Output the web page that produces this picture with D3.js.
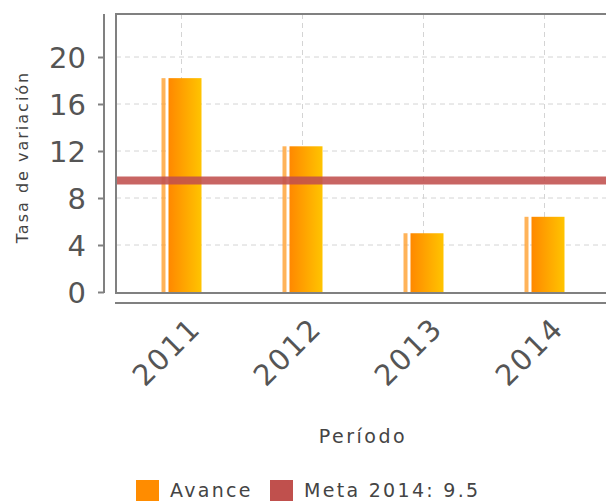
<!DOCTYPE html>
<html><head><meta charset="utf-8">
<script src="https://cdn.jsdelivr.net/npm/d3@7"></script>
<style>body{margin:0;background:#fff}svg{display:block}</style>
</head><body>
<script>
const categories = ["2011","2012","2013","2014"];
const avance = [18.2, 12.4, 5.0, 6.4];
const meta = 9.5;
const yTicks = [0,4,8,12,16,20];
const seriesNames = ["Avance","Meta 2014: 9.5"];

(function(){
const W=606,H=501;
const svg=d3.select("body").append("svg").attr("width",W).attr("height",H);
const defs=svg.append("defs");
const g=defs.append("linearGradient").attr("id","barg").attr("x1","0").attr("x2","1").attr("y1","0").attr("y2","0");
g.append("stop").attr("offset","0%").attr("stop-color","#ff8800");
g.append("stop").attr("offset","100%").attr("stop-color","#ffc400");

const pLeft=116, pTop=14, pBottom=292, pRight=606;
const x=d3.scaleBand().domain(categories).range([121,605]);
const y=d3.scaleLinear().domain([0,24]).range([pBottom,10]);

// grid
const grid=svg.append("g").attr("stroke","#d4d4d4").attr("stroke-dasharray","5,4").attr("stroke-width",1);
grid.selectAll("line.h").data(yTicks.filter(d=>d>0)).join("line").attr("class","h")
  .attr("x1",pLeft).attr("x2",pRight).attr("y1",d=>y(d)).attr("y2",d=>y(d));
grid.selectAll("line.v").data(categories).join("line").attr("class","v")
  .attr("x1",d=>x(d)+x.bandwidth()/2).attr("x2",d=>x(d)+x.bandwidth()/2).attr("y1",pTop).attr("y2",pBottom);

// bars
const bw=33;
const bars=svg.append("g");
bars.selectAll("rect.s").data(avance).join("rect").attr("class","s")
  .attr("x",(d,i)=>x(categories[i])+x.bandwidth()/2-20).attr("width",4)
  .attr("y",d=>y(d)).attr("height",d=>pBottom-y(d)).attr("fill","#ffa030").attr("opacity",0.8);
bars.selectAll("rect.b").data(avance).join("rect").attr("class","b")
  .attr("x",(d,i)=>x(categories[i])+x.bandwidth()/2-13).attr("width",bw)
  .attr("y",d=>y(d)).attr("height",d=>pBottom-y(d)).attr("fill","url(#barg)");

// meta line
svg.append("line").attr("x1",pLeft).attr("x2",pRight).attr("y1",y(meta)).attr("y2",y(meta))
  .attr("stroke","#c0504d").attr("stroke-opacity",0.88).attr("stroke-width",8);

// frame
svg.append("path").attr("d",`M${pRight},${pTop}H${pLeft}V${pBottom+1}H${pRight}`)
  .attr("fill","none").attr("stroke","#808080").attr("stroke-width",2);

// y axis
const ya=svg.append("g").attr("transform","translate(104,0)")
  .call(d3.axisLeft(y).tickValues(yTicks).tickSize(6).tickPadding(12).tickSizeOuter(0));
ya.select(".domain").attr("d",`M0,${pTop}V${pBottom+1}`).attr("stroke","#808080").attr("stroke-width",2);
ya.selectAll(".tick line").attr("stroke","#808080").attr("stroke-width",2);
ya.selectAll(".tick text").attr("font-family","DejaVu Sans").attr("font-size",29).attr("fill","#555").attr("dy","0.36em");

// x axis
const xa=svg.append("g").attr("transform","translate(0,303)")
  .call(d3.axisBottom(x).tickSize(0).tickPadding(0));
xa.select(".domain").attr("d",`M115,0H${pRight}`).attr("stroke","#808080").attr("stroke-width",2);
xa.selectAll(".tick text").attr("font-family","DejaVu Sans").attr("font-size",29).attr("fill","#555")
  .attr("letter-spacing",2).attr("text-anchor","end").attr("dy",null).attr("y",null)
  .attr("transform","translate(21,27) rotate(-45)");

// titles
svg.append("text").attr("transform","translate(28,157) rotate(-90)").attr("text-anchor","middle")
  .attr("font-family","DejaVu Sans").attr("font-size",16).attr("letter-spacing",2).attr("fill","#444").text("Tasa de variación");
svg.append("text").attr("x",363).attr("y",443).attr("text-anchor","middle")
  .attr("font-family","DejaVu Sans").attr("font-size",19).attr("letter-spacing",2.5).attr("fill","#444").text("Período");

// legend
const lg=svg.append("g");
const legColors=["#ff8c00","#c0504d"];
const legX=[136,270];
seriesNames.forEach((n,i)=>{
  lg.append("rect").attr("x",legX[i]).attr("y",480).attr("width",23).attr("height",21).attr("fill",legColors[i]);
  lg.append("text").attr("x",legX[i]+34).attr("y",497).attr("font-family","DejaVu Sans").attr("font-size",19)
    .attr("letter-spacing",2.3).attr("fill","#444").text(n);
});
})();
</script>
</body></html>
